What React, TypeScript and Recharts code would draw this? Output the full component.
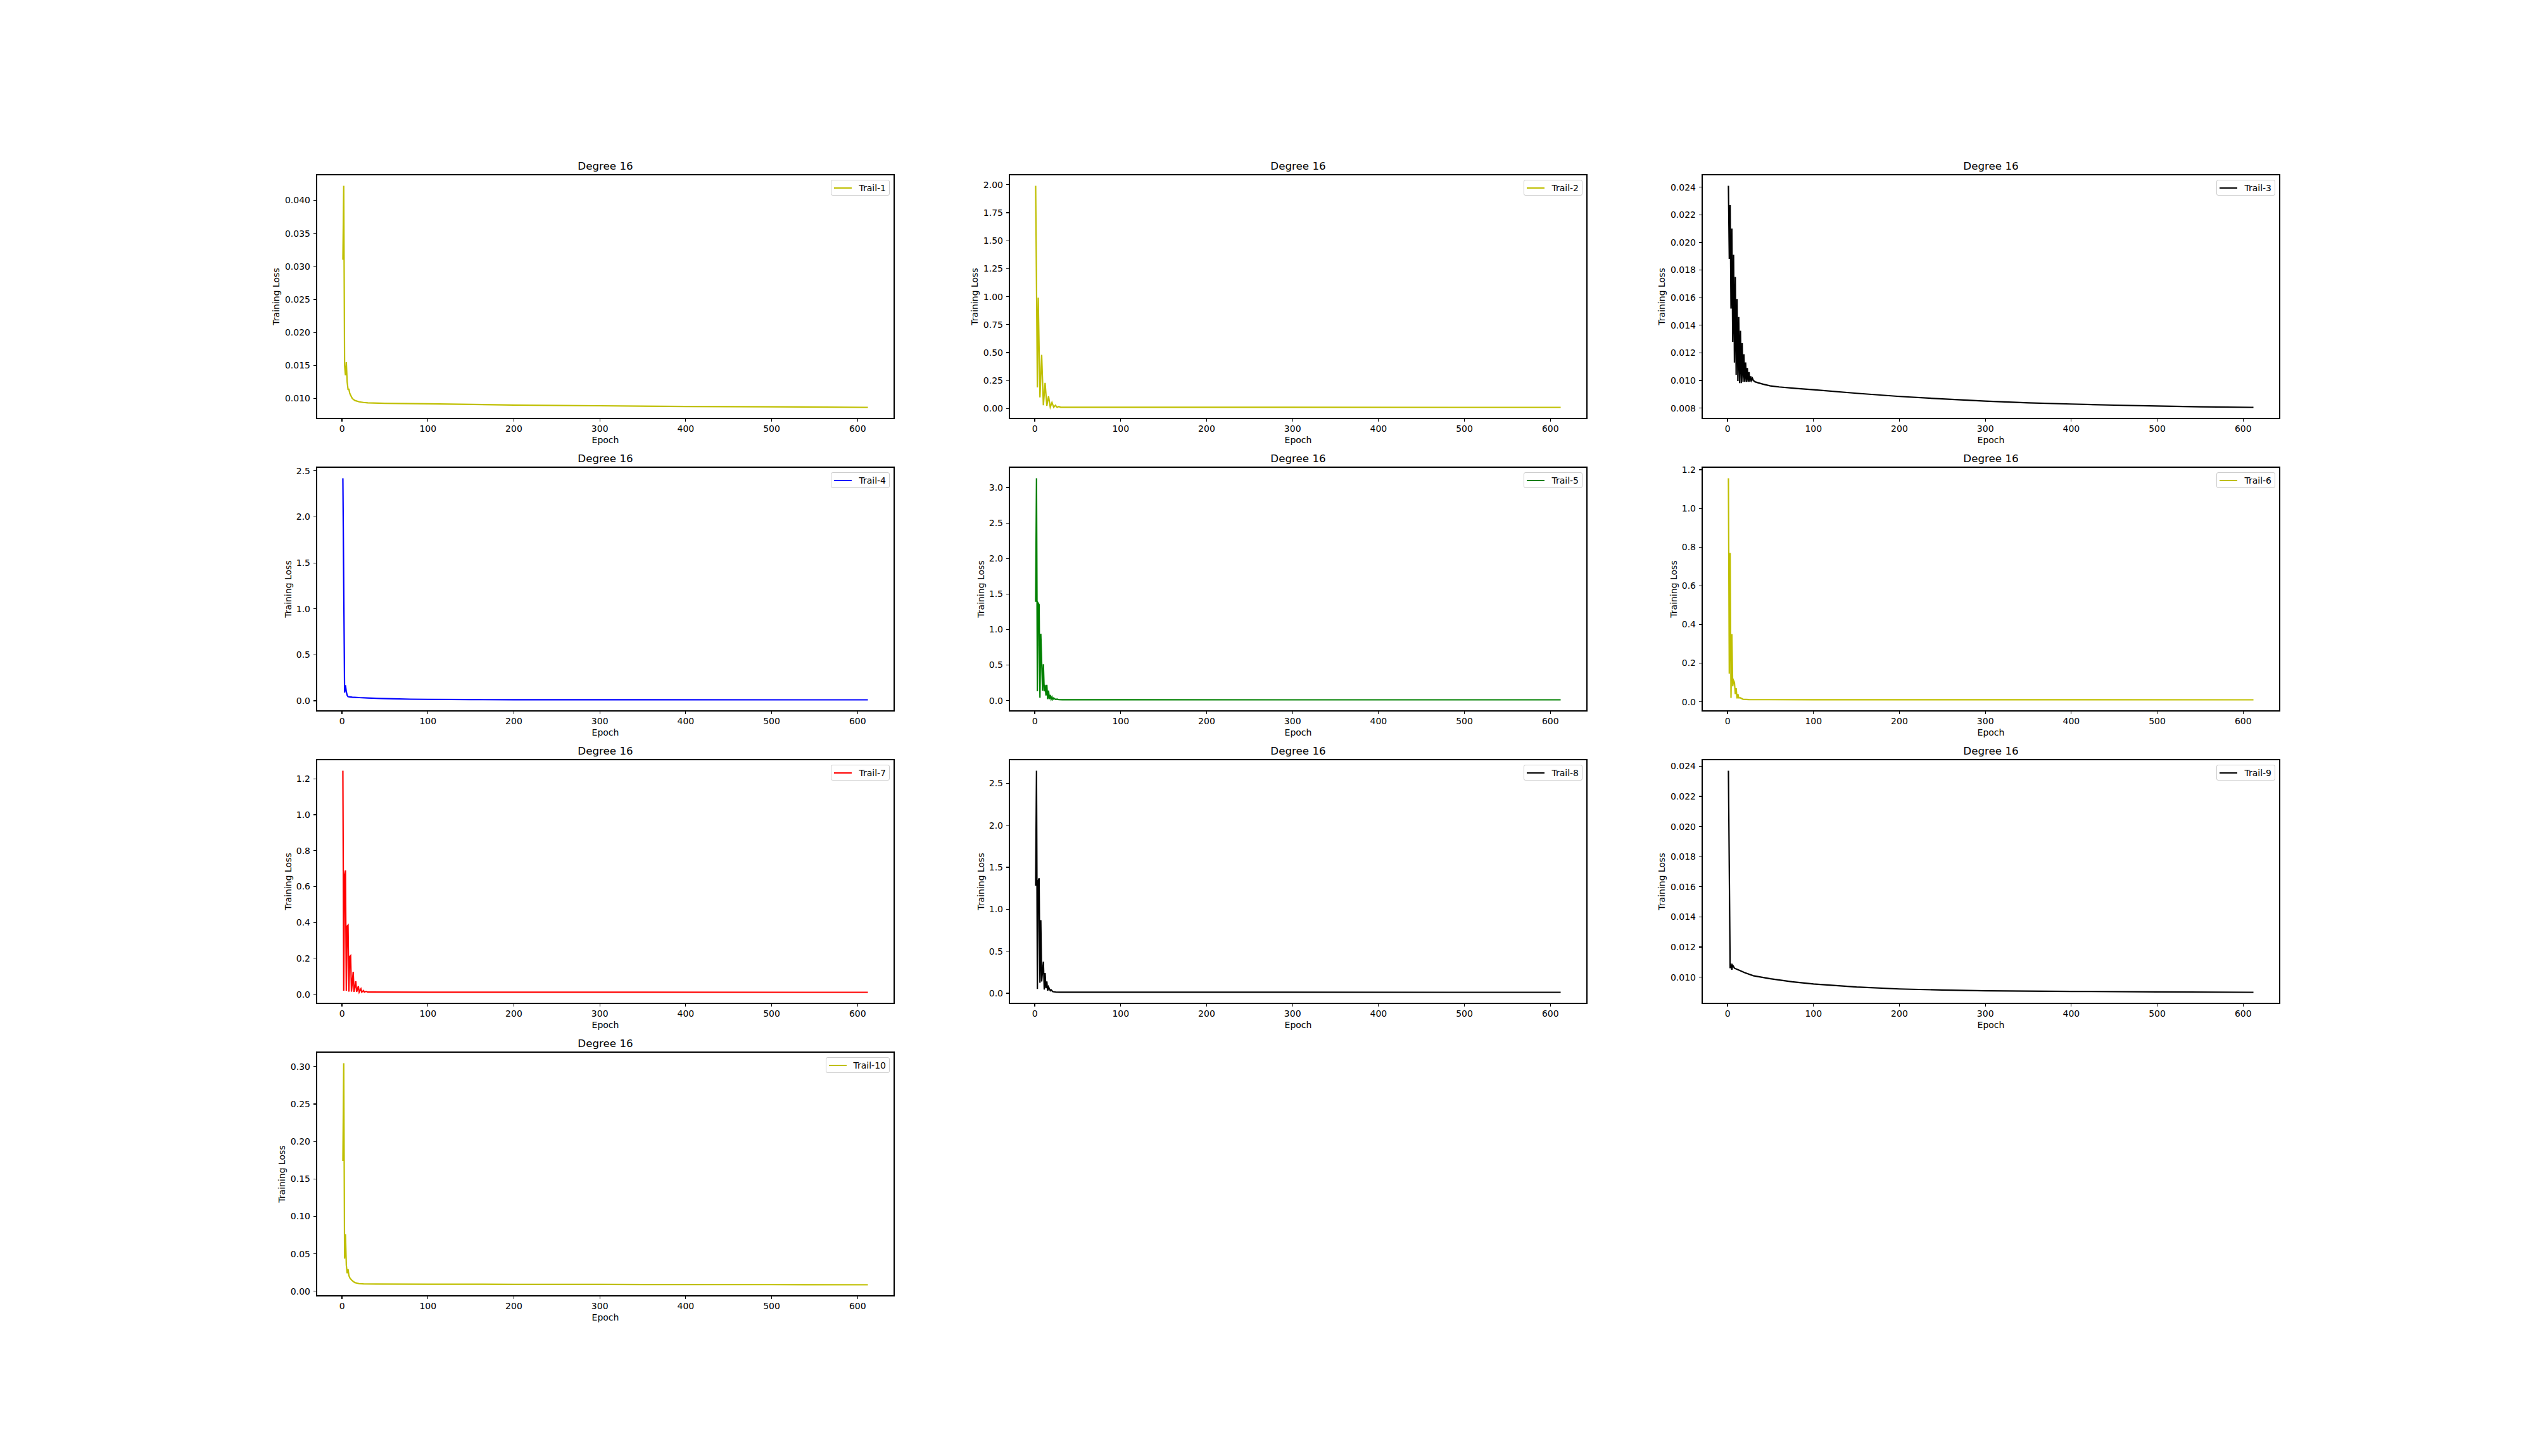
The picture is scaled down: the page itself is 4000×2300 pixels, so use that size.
import { LineChart, Line, XAxis, YAxis, ReferenceArea } from 'recharts';

const epochTicks = [0, 100, 200, 300, 400, 500, 600];

// Trail-1
const trail1Epochs = [1, 2, 3, 4, 5, 6, 7, 8, 9, 10, 12, 15, 20, 25, 30, 50, 100, 200, 300, 400, 500, 612];
const trail1Loss = [0.031, 0.0422, 0.015, 0.0135, 0.0155, 0.0125, 0.0114, 0.0114, 0.0108, 0.0105, 0.01, 0.0097, 0.0095, 0.0094, 0.00935, 0.00928, 0.0092, 0.009, 0.0089, 0.0088, 0.00874, 0.00866];
const trail1Ticks = [0.01, 0.015, 0.02, 0.025, 0.03, 0.035, 0.04];

// Trail-2
const trail2Epochs = [1, 3, 4, 6, 8, 10, 12, 14, 16, 18, 20, 22, 24, 26, 28, 30, 34, 100, 300, 612];
const trail2Loss = [1.99, 0.19, 0.99, 0.1, 0.48, 0.03, 0.23, 0.025, 0.11, 0.013, 0.055, 0.012, 0.03, 0.012, 0.018, 0.012, 0.012, 0.0118, 0.0115, 0.0112];
const trail2Ticks = [0, 0.25, 0.5, 0.75, 1.0, 1.25, 1.5, 1.75, 2.0];

// Trail-3
const trail3Epochs = [1, 2, 3, 4, 5, 6, 7, 8, 9, 10, 11, 12, 13, 14, 15, 16, 17, 18, 19, 20, 21, 22, 23, 24, 25, 26, 27, 28, 29, 30, 32, 36, 42, 50, 60, 80, 100, 150, 200, 250, 300, 350, 400, 450, 500, 550, 612];
const trail3Loss = [0.0241, 0.0188, 0.0227, 0.0152, 0.021, 0.0128, 0.0191, 0.0113, 0.0175, 0.0104, 0.0159, 0.00995, 0.0146, 0.0098, 0.0136, 0.0098, 0.0127, 0.0099, 0.0119, 0.0099, 0.0113, 0.0099, 0.0109, 0.0099, 0.0106, 0.0099, 0.0103, 0.01, 0.01015, 0.01, 0.0099, 0.00982, 0.00972, 0.0096, 0.00953, 0.00942, 0.00933, 0.00907, 0.00884, 0.00866, 0.0085, 0.00838, 0.00829, 0.00821, 0.00815, 0.00809, 0.00805];
const trail3Ticks = [0.008, 0.01, 0.012, 0.014, 0.016, 0.018, 0.02, 0.022, 0.024];

// Trail-4
const trail4Epochs = [1, 3, 4, 5, 6, 7, 9, 12, 20, 30, 45, 60, 80, 100, 150, 200, 300, 612];
const trail4Loss = [2.42, 0.09, 0.17, 0.1, 0.06, 0.045, 0.043, 0.04, 0.035, 0.031, 0.026, 0.022, 0.018, 0.016, 0.013, 0.012, 0.0115, 0.011];
const trail4Ticks = [0, 0.5, 1.0, 1.5, 2.0, 2.5];

// Trail-5
const trail5Epochs = [1, 2, 3, 4, 5, 6, 7, 9, 10, 11, 12, 13, 14, 15, 16, 17, 18, 19, 20, 21, 22, 24, 26, 28, 32, 100, 300, 612];
const trail5Loss = [1.39, 3.13, 0.13, 1.37, 1.35, 0.04, 0.94, 0.14, 0.51, 0.13, 0.22, 0.07, 0.22, 0.02, 0.14, 0.02, 0.08, 0.02, 0.05, 0.015, 0.035, 0.015, 0.02, 0.012, 0.011, 0.0105, 0.01, 0.0098];
const trail5Ticks = [0, 0.5, 1.0, 1.5, 2.0, 2.5, 3.0];

// Trail-6
const trail6Epochs = [1, 2, 3, 4, 5, 6, 7, 8, 9, 10, 11, 12, 13, 15, 18, 25, 100, 612];
const trail6Loss = [1.156, 0.145, 0.77, 0.02, 0.35, 0.08, 0.11, 0.1, 0.04, 0.07, 0.017, 0.04, 0.02, 0.02, 0.013, 0.011, 0.0105, 0.01];
const trail6Ticks = [0, 0.2, 0.4, 0.6, 0.8, 1.0, 1.2];

// Trail-7
const trail7Epochs = [1, 2, 3, 4, 5, 6, 7, 8, 9, 10, 11, 13, 14, 16, 17, 19, 20, 22, 23, 25, 26, 28, 30, 100, 612];
const trail7Loss = [1.245, 0.02, 0.665, 0.69, 0.02, 0.38, 0.385, 0.015, 0.21, 0.215, 0.015, 0.125, 0.013, 0.072, 0.013, 0.045, 0.012, 0.03, 0.012, 0.021, 0.012, 0.016, 0.012, 0.0115, 0.011];
const trail7Ticks = [0, 0.2, 0.4, 0.6, 0.8, 1.0, 1.2];

// Trail-8
const trail8Epochs = [1, 2, 3, 4, 5, 6, 7, 8, 10, 11, 12, 13, 14, 15, 16, 18, 19, 21, 25, 30, 100, 612];
const trail8Loss = [1.28, 2.65, 0.05, 1.34, 1.37, 0.125, 0.87, 0.14, 0.376, 0.043, 0.24, 0.06, 0.14, 0.03, 0.075, 0.03, 0.04, 0.018, 0.013, 0.012, 0.0115, 0.011];
const trail8Ticks = [0, 0.5, 1.0, 1.5, 2.0, 2.5];

// Trail-9
const trail9Epochs = [1, 3, 4, 5, 6, 8, 12, 20, 30, 50, 75, 100, 150, 200, 250, 300, 400, 500, 612];
const trail9Loss = [0.0237, 0.0106, 0.0109, 0.0105, 0.0108, 0.0106, 0.0105, 0.0103, 0.0101, 0.0099, 0.0097, 0.00955, 0.00935, 0.00922, 0.00915, 0.0091, 0.00906, 0.00903, 0.009];
const trail9Ticks = [0.01, 0.012, 0.014, 0.016, 0.018, 0.02, 0.022, 0.024];

// Trail-10
const trail10Epochs = [1, 2, 3, 4, 5, 6, 7, 8, 9, 10, 12, 15, 20, 25, 40, 100, 200, 300, 400, 500, 612];
const trail10Loss = [0.174, 0.3045, 0.0436, 0.0762, 0.035, 0.024, 0.0295, 0.021, 0.018, 0.0165, 0.014, 0.0115, 0.0102, 0.0098, 0.0096, 0.0095, 0.0093, 0.0092, 0.009, 0.0089, 0.0087];
const trail10Ticks = [0, 0.05, 0.1, 0.15, 0.2, 0.25, 0.3];

const YELLOW = '#bfbf00';

const trails = [
  { name: 'Trail-1', color: YELLOW, epochs: trail1Epochs, loss: trail1Loss, ticks: trail1Ticks, digits: 3, labelGap: 64 },
  { name: 'Trail-2', color: YELLOW, epochs: trail2Epochs, loss: trail2Loss, ticks: trail2Ticks, digits: 2, labelGap: 55 },
  { name: 'Trail-3', color: '#000000', epochs: trail3Epochs, loss: trail3Loss, ticks: trail3Ticks, digits: 3, labelGap: 64 },
  { name: 'Trail-4', color: '#0000ff', epochs: trail4Epochs, loss: trail4Loss, ticks: trail4Ticks, digits: 1, labelGap: 45 },
  { name: 'Trail-5', color: '#008000', epochs: trail5Epochs, loss: trail5Loss, ticks: trail5Ticks, digits: 1, labelGap: 45 },
  { name: 'Trail-6', color: YELLOW, epochs: trail6Epochs, loss: trail6Loss, ticks: trail6Ticks, digits: 1, labelGap: 45 },
  { name: 'Trail-7', color: '#ff0000', epochs: trail7Epochs, loss: trail7Loss, ticks: trail7Ticks, digits: 1, labelGap: 45 },
  { name: 'Trail-8', color: '#000000', epochs: trail8Epochs, loss: trail8Loss, ticks: trail8Ticks, digits: 1, labelGap: 45 },
  { name: 'Trail-9', color: '#000000', epochs: trail9Epochs, loss: trail9Loss, ticks: trail9Ticks, digits: 3, labelGap: 64 },
  { name: 'Trail-10', color: YELLOW, epochs: trail10Epochs, loss: trail10Loss, ticks: trail10Ticks, digits: 2, labelGap: 55 },
];

const AX_W = 912;
const AX_H = 385;
const COL_X = [500, 1594, 2688];
const ROW_Y = [276, 738, 1200, 1662];
const LEFT_SPACE = 200;
const TOP_SPACE = 40;
const BOTTOM_SPACE = 45;

type Trail = (typeof trails)[number];

function Panel({ t, left, top }: { t: Trail; left: number; top: number }) {
  const data = t.epochs.map((e, i) => ({ epoch: e, loss: t.loss[i] }));
  const lo = Math.min(...t.loss);
  const hi = Math.max(...t.loss);
  const yPad = (hi - lo) * 0.05;
  const yDomain: [number, number] = [lo - yPad, hi + yPad];
  const x0 = t.epochs[0];
  const x1 = t.epochs[t.epochs.length - 1];
  const xPad = (x1 - x0) * 0.05;
  const xDomain: [number, number] = [x0 - xPad, x1 + xPad];
  const textStyle = { fill: '#000', fontSize: 14 };
  const tickLine = { stroke: '#000', strokeWidth: 1.2, shapeRendering: 'crispEdges' };

  return (
    <>
      <div style={{ position: 'absolute', left: left - LEFT_SPACE, top: top - TOP_SPACE }}>
        <LineChart
          width={LEFT_SPACE + AX_W + 10}
          height={TOP_SPACE + AX_H + BOTTOM_SPACE}
          data={data}
          margin={{ top: TOP_SPACE, right: 10, bottom: 0, left: 0 }}
        >
          <XAxis
            dataKey="epoch"
            type="number"
            domain={xDomain}
            ticks={epochTicks}
            interval={0}
            allowDataOverflow
            height={BOTTOM_SPACE}
            axisLine={false}
            tickSize={5}
            tickMargin={6}
            tickLine={tickLine}
            tick={textStyle}
            label={{ value: 'Epoch', position: 'insideBottom', offset: 6, ...textStyle }}
          />
          <YAxis
            type="number"
            domain={yDomain}
            ticks={t.ticks}
            interval={0}
            allowDataOverflow
            width={LEFT_SPACE}
            axisLine={false}
            tickSize={5}
            tickMargin={5}
            tickLine={tickLine}
            tick={textStyle}
            tickFormatter={(v: number) => v.toFixed(t.digits)}
            label={{
              value: 'Training Loss',
              angle: -90,
              position: 'insideLeft',
              offset: LEFT_SPACE - t.labelGap,
              ...textStyle,
              style: { textAnchor: 'middle' },
            }}
          />
          <Line
            type="linear"
            dataKey="loss"
            stroke={t.color}
            strokeWidth={2.2}
            dot={false}
            isAnimationActive={false}
          />
          <ReferenceArea
            x1={xDomain[0]}
            x2={xDomain[1]}
            y1={yDomain[0]}
            y2={yDomain[1]}
            fill="none"
            fillOpacity={0}
            stroke="#000"
            strokeWidth={1.2}
            shapeRendering="crispEdges"
            ifOverflow="visible"
            label={{ value: 'Degree 16', position: 'top', offset: 8, fill: '#000', fontSize: 16.7 }}
          />
        </LineChart>
      </div>
      <div
        style={{
          position: 'absolute',
          right: 4000 - (left + AX_W - 7),
          top: top + 8,
          height: 25,
          boxSizing: 'border-box',
          background: 'rgba(255,255,255,0.8)',
          border: '1px solid #cccccc',
          borderRadius: 3,
          display: 'flex',
          alignItems: 'center',
          padding: '0 5px 0 4px',
          fontSize: 14,
          color: '#000',
          whiteSpace: 'nowrap',
        }}
      >
        <div style={{ width: 28, height: 0, borderTop: `2.2px solid ${t.color}`, marginRight: 11 }} />
        <span>{t.name}</span>
      </div>
    </>
  );
}

export default function App() {
  return (
    <div
      style={{
        position: 'absolute',
        left: 0,
        top: 0,
        width: 4000,
        height: 2300,
        background: '#fff',
        fontFamily: '"DejaVu Sans", sans-serif',
        overflow: 'hidden',
      }}
    >
      {trails.map((t, i) => (
        <Panel key={t.name} t={t} left={COL_X[i % 3]} top={ROW_Y[Math.floor(i / 3)]} />
      ))}
    </div>
  );
}
